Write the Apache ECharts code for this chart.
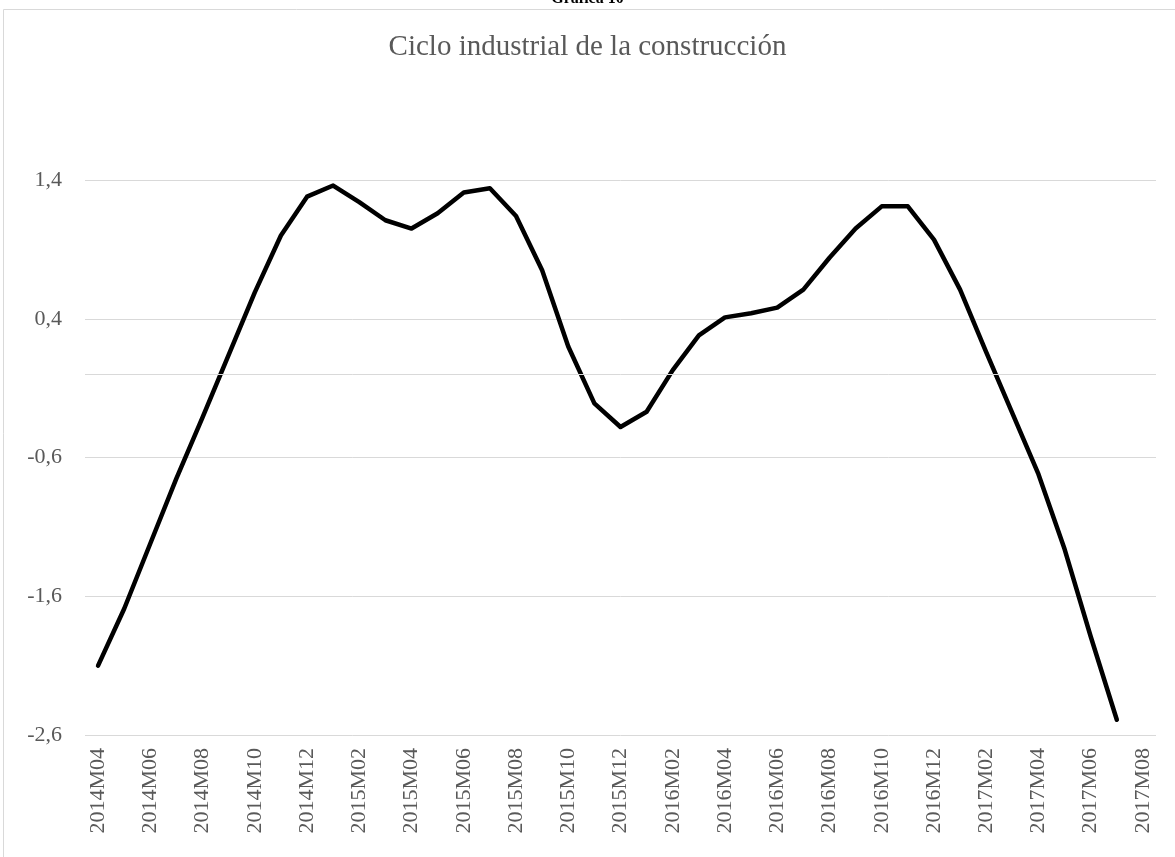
<!DOCTYPE html>
<html>
<head>
<meta charset="utf-8">
<script src="https://cdn.jsdelivr.net/npm/echarts@6/dist/echarts.min.js"></script>
<style>
  html, body { margin: 0; padding: 0; background: #fff; }
  #chart { width: 1175px; height: 857px; }
</style>
</head>
<body>
<div id="chart"></div>
<script>
// months 2014M04 .. 2017M08
const months = [
  '2014M04','2014M05','2014M06','2014M07','2014M08','2014M09','2014M10','2014M11','2014M12',
  '2015M01','2015M02','2015M03','2015M04','2015M05','2015M06','2015M07','2015M08','2015M09','2015M10','2015M11','2015M12',
  '2016M01','2016M02','2016M03','2016M04','2016M05','2016M06','2016M07','2016M08','2016M09','2016M10','2016M11','2016M12',
  '2017M01','2017M02','2017M03','2017M04','2017M05','2017M06','2017M07','2017M08'
];

const ciclo = [
  -2.10, -1.69, -1.22, -0.75, -0.31, 0.14, 0.59, 1.00, 1.28,
  1.36, 1.24, 1.11, 1.05, 1.16, 1.31, 1.34, 1.14, 0.75, 0.20, -0.21, -0.38,
  -0.27, 0.03, 0.28, 0.41, 0.44, 0.48, 0.61, 0.84, 1.05, 1.21, 1.21, 0.97,
  0.61, 0.16, -0.28, -0.72, -1.26, -1.89, -2.49, null
];

const titulo = 'Ciclo industrial de la construcción';
const grafica = 'Gráfica 10';

const serif = '"Liberation Serif", "DejaVu Serif", serif';
const gris = '#595959';

const chart = echarts.init(document.getElementById('chart'));
chart.setOption({
  animation: false,
  backgroundColor: '#fff',
  title: {
    text: titulo,
    left: 'center',
    top: 28,
    textStyle: { fontFamily: serif, fontSize: 29, fontWeight: 'normal', color: gris }
  },
  graphic: [
    {
      type: 'rect',
      shape: { x: 3.5, y: 9.5, width: 1200, height: 900 },
      style: { fill: 'none', stroke: '#d9d9d9', lineWidth: 1 },
      silent: true
    },
    {
      type: 'text',
      left: 'center',
      top: -9,
      style: { text: grafica, fontFamily: serif, fontSize: 16, fontWeight: 'bold', fill: '#000' },
      silent: true
    }
  ],
  grid: { left: 85, right: 19, top: 180, bottom: 122 },
  xAxis: {
    type: 'category',
    data: months,
    boundaryGap: true,
    axisLine: { show: false },
    axisTick: { show: false },
    axisLabel: {
      interval: 1,
      rotate: 90,
      margin: 13,
      fontFamily: serif,
      fontSize: 22,
      color: gris
    },
    splitLine: { show: false }
  },
  yAxis: {
    type: 'value',
    min: -2.6,
    max: 1.4,
    interval: 1,
    axisLine: { show: false },
    axisTick: { show: false },
    axisLabel: {
      margin: 23,
      fontFamily: serif,
      fontSize: 22,
      color: gris,
      formatter: v => v.toFixed(1).replace('.', ',')
    },
    splitLine: { lineStyle: { color: '#d9d9d9', width: 1 } }
  },
  series: [{
    type: 'line',
    data: ciclo,
    showSymbol: false,
    lineStyle: { color: '#000', width: 4.5, cap: 'round', join: 'round' },
    markLine: {
      silent: true,
      symbol: 'none',
      label: { show: false },
      lineStyle: { color: '#d9d9d9', width: 1, type: 'solid' },
      data: [{ yAxis: 0 }]
    },
    z: 3
  }]
});
</script>
</body>
</html>
